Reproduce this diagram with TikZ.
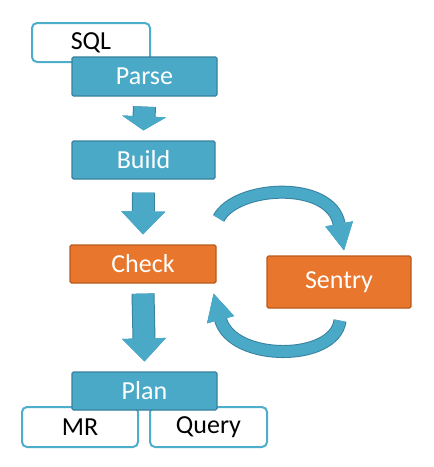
\documentclass[tikz,border=0pt]{standalone}
\usepackage{fontspec}
\setmainfont{Carlito}
\usetikzlibrary{arrows.meta}
\definecolor{stepblue}{HTML}{4BA9C8}
\definecolor{stepblueline}{HTML}{37819E}
\definecolor{steporange}{HTML}{E8762C}
\definecolor{steporangeline}{HTML}{B95A1C}
\definecolor{ioblue}{HTML}{4DAECB}
\tikzset{
  stepbox/.style={draw=stepblueline, fill=stepblue, line width=1.2pt, rounded corners=1.5pt,
    text=white, inner sep=0pt, font=\fontsize{26}{30}\selectfont},
  checkbox/.style={stepbox, draw=steporangeline, fill=steporange},
  iobox/.style={draw=ioblue, fill=white, line width=2pt, rounded corners=5pt,
    text=black, inner sep=0pt, font=\fontsize{26}{30}\selectfont},
  blockarrow/.style={draw=stepblue, line width=21pt,
    -{Triangle[width=44pt,length=23pt,color=stepblue,line width=0.5pt]},
    preaction={draw=stepblueline, line width=23pt}},
  looparrow/.style={draw=stepblue, line width=11pt,
    -{Triangle[width=28pt,length=27pt,color=stepblue,line width=0.5pt]},
    preaction={draw=stepblueline, line width=13pt}}
}
\begin{document}
\begin{tikzpicture}[x=1pt, y=-1pt]
		\useasboundingbox (0,0) rectangle (434,467);
		% input and first steps
		\node[iobox, minimum width=118pt, minimum height=39pt] (sql) at (91,42.5) {SQL};
		\node[stepbox, minimum width=145pt, minimum height=39pt] (parse) at (144.5,76.5) {Parse};
		\node[stepbox, minimum width=143pt, minimum height=38pt] (build) at (143.5,160) {Build};
		\node[checkbox, minimum width=146pt, minimum height=38pt] (check) at (143,264) {Check};
		\node[checkbox, minimum width=144pt, minimum height=52pt] (sentry) at (339,282) {Sentry};
		% outputs below the plan
		\node[iobox, minimum width=116pt, minimum height=40pt] (mr) at (80,427) {MR};
		\node[iobox, minimum width=117pt, minimum height=40pt] (query) at (208.5,427) {Query};
		\node[stepbox, minimum width=145pt, minimum height=38pt] (plan) at (144.5,391) {Plan};
		% arrows
		\draw[blockarrow, -{Triangle[width=44pt,length=14pt,color=stepblue,line width=0.5pt]}]
			([yshift=-10pt]parse.south) -- ([yshift=10pt]build.north);
		\draw[blockarrow] ([yshift=-13pt]build.south) -- ([yshift=10pt]check.north);
		\draw[blockarrow] ([yshift=-10pt]check.south) -- ([yshift=10pt]plan.north);
		\coordinate (outtop) at ([shift={(2,-26)}]check.north east);
		\coordinate (intop) at ([shift={(5,-5)}]sentry.north);
		\coordinate (outbot) at ([shift={(1,12)}]sentry.south);
		\coordinate (inbot) at ([shift={(-3,10)}]check.south east);
		\draw[looparrow] (outtop) .. controls (236,185) and (331,180) .. (intop);
		\draw[looparrow] (outbot) .. controls (335,362) and (232,362) .. (inbot);
		\end{tikzpicture}
\end{document}
